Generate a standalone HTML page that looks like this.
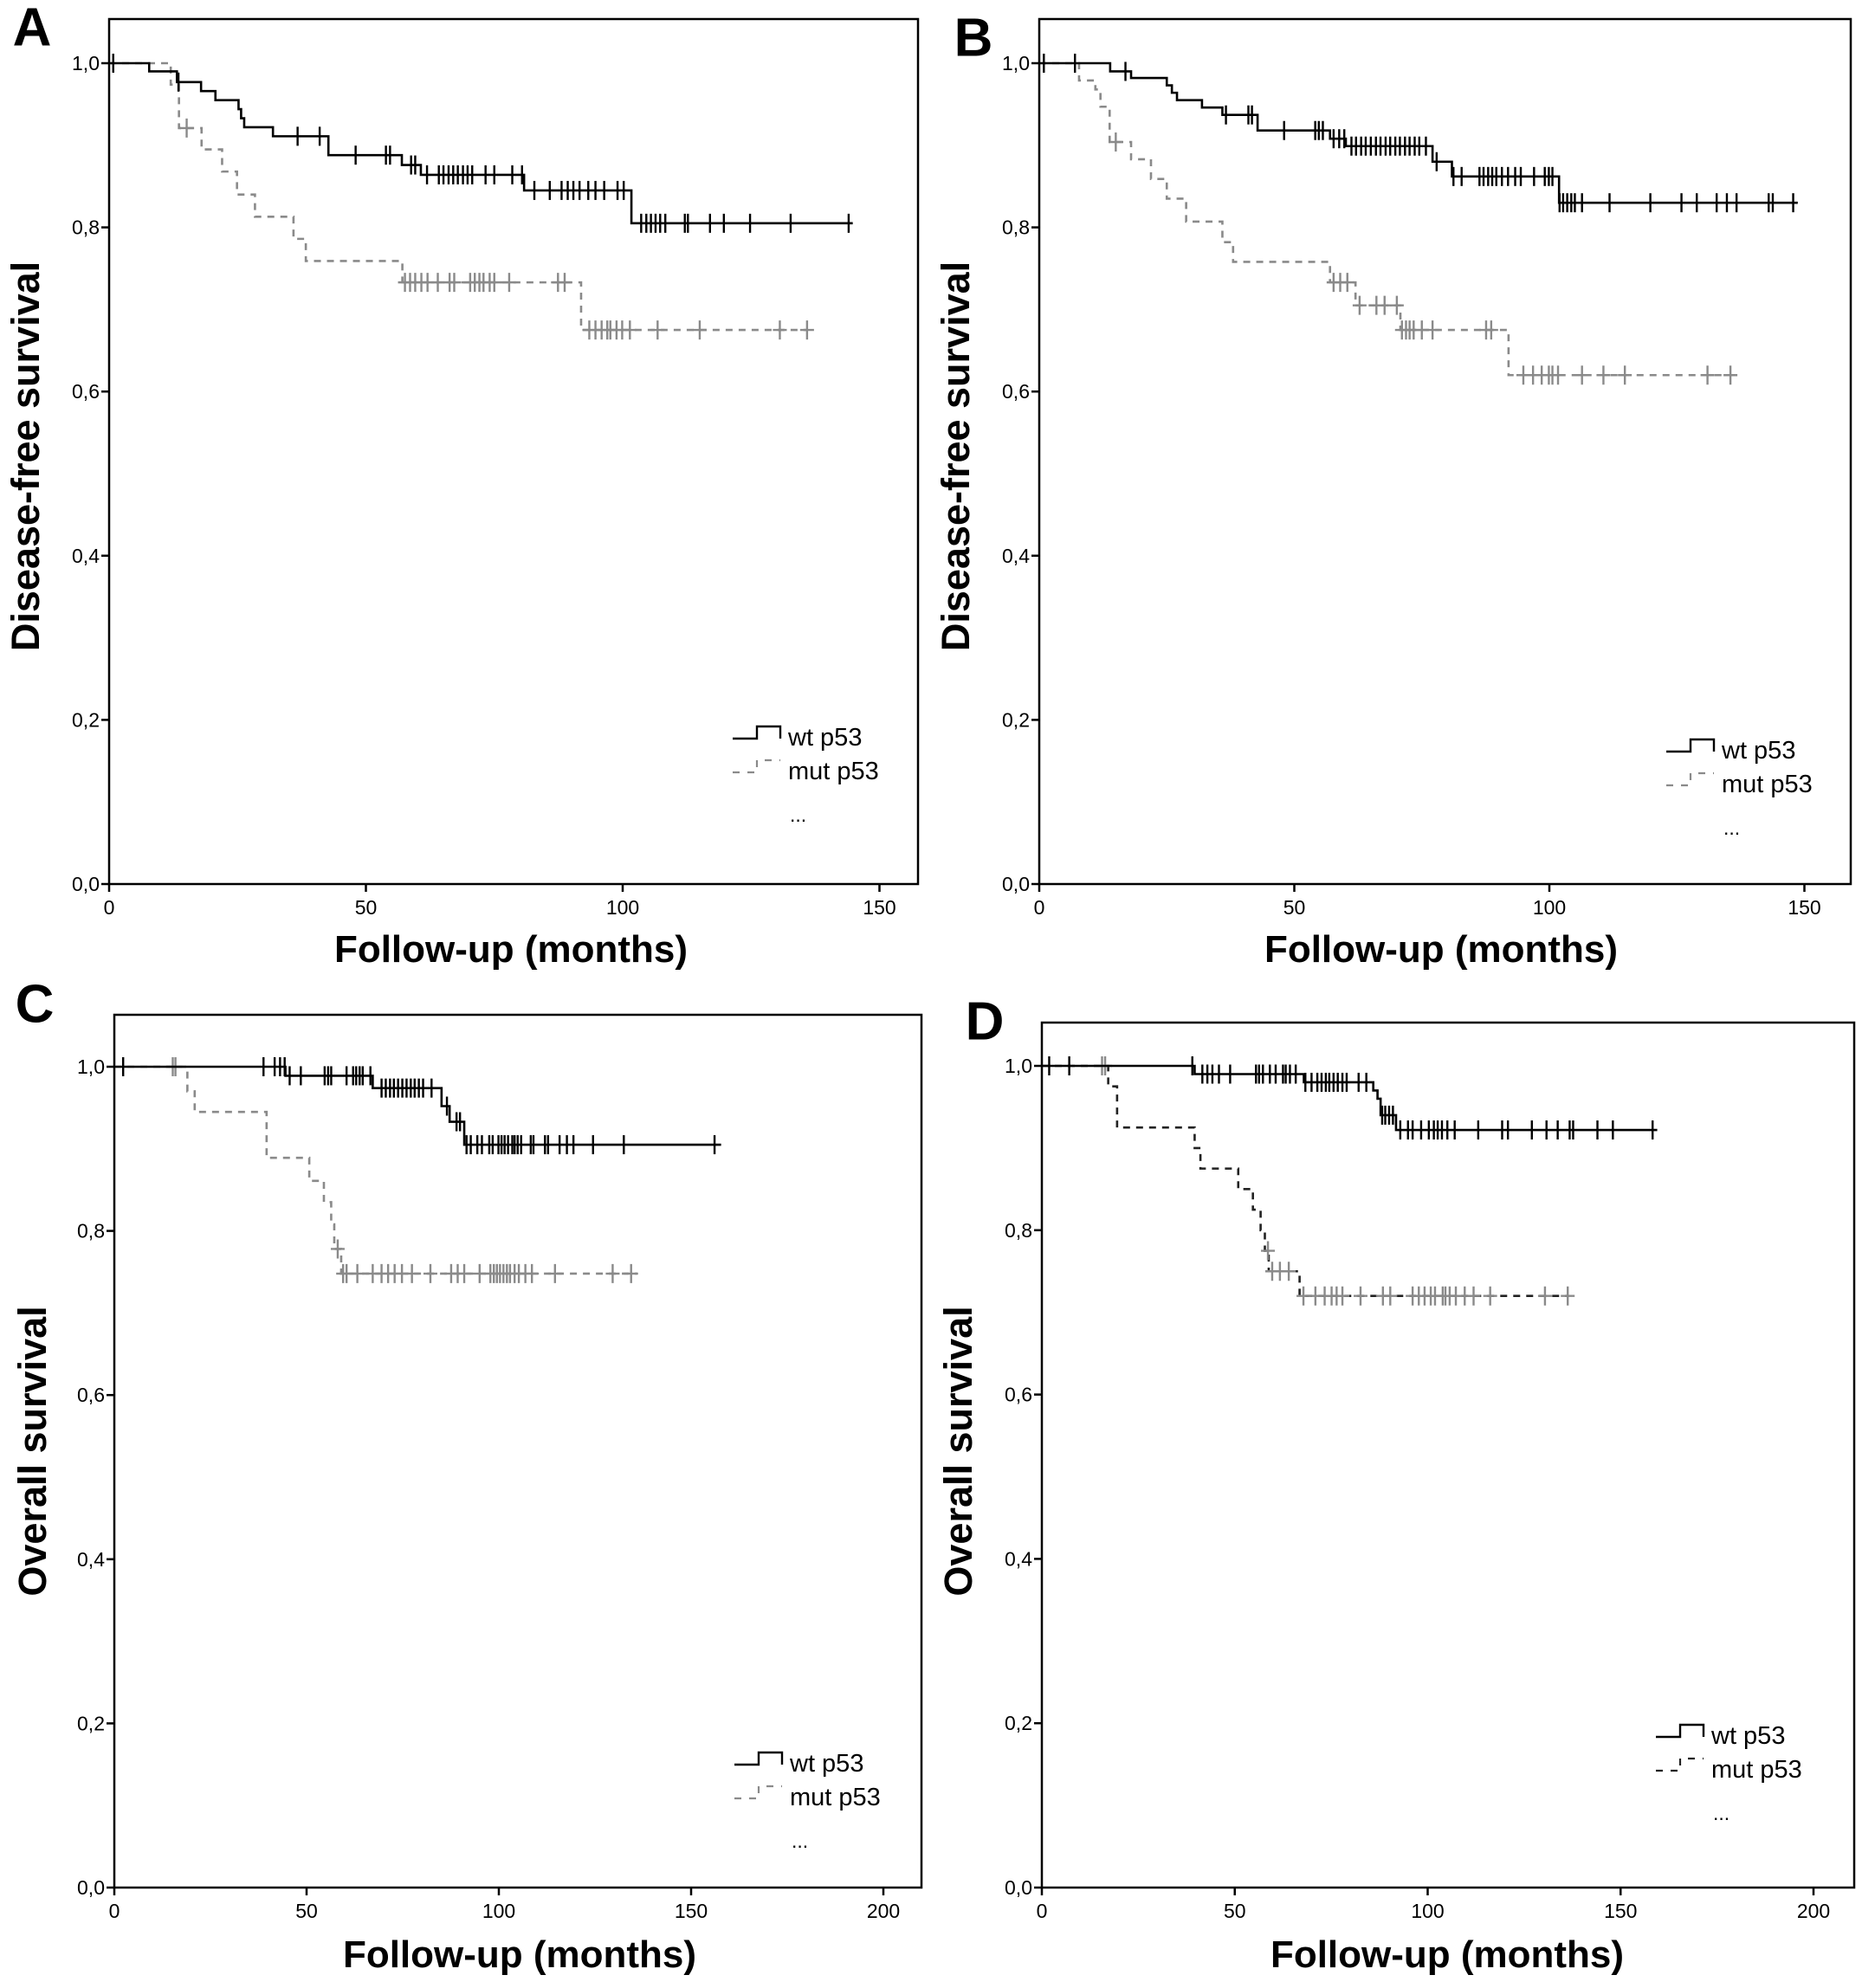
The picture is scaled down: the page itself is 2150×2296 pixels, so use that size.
<!DOCTYPE html>
<html><head><meta charset="utf-8">
<style>
html,body{margin:0;padding:0;background:#fff;}
svg{display:block;font-family:"Liberation Sans",Arial,sans-serif;}
</style></head>
<body>
<svg id="fig" width="2150" height="2296" viewBox="0 0 2150 2296" xmlns="http://www.w3.org/2000/svg"></svg>
<script>
// ---- Panel A data ----
const aWtT=[7.8,13.2,17.9,20.7,25.2,25.7,26.3,31.9,42.7,57,60.7,80.8,101.7];
const aWtS=[0.99,0.977,0.966,0.955,0.944,0.933,0.922,0.911,0.888,0.876,0.864,0.845,0.805];
const aWtEnd=144.8;
const aWtC=[0.8,13.5,36.7,41,48,53.9,54.7,58.8,59.6,61.9,64.2,65.1,66.1,67,67.9,68.9,69.8,70.7,73.3,75,78.5,80.4,82.8,85.8,88.1,89.3,90.4,91.6,93.3,94.7,96.4,99,100.2,103.6,104.6,105.5,106.4,107.3,108.3,112.1,112.7,117,119.7,124.8,132.7,144];
const aMutT=[12,13.6,18,22,24.9,28.4,35.9,38.3,57.1,91.9];
const aMutS=[0.974,0.921,0.895,0.868,0.84,0.813,0.786,0.759,0.733,0.675];
const aMutEnd=135.9;
const aMutC=[15.1,57.6,58.6,59.6,60.8,62,64,66.3,67.2,70.3,71.2,72.1,72.9,74.1,75,77.9,87.4,88.7,93.5,94.7,95.9,97,97.6,98.8,99.9,101.4,106.8,115,130.6,135.9];
// ---- Panel B data ----
const bWtT=[13.9,18,25,26,27,31.9,35.9,42.8,57,60.1,77.1,80.9,101.9];
const bWtS=[0.99,0.982,0.973,0.964,0.955,0.946,0.937,0.918,0.908,0.899,0.88,0.862,0.83];
const bWtEnd=148.7;
const bWtC=[0.9,7,16.9,36.6,41,41.7,48,54.1,54.8,55.6,57.7,58.8,59.8,61.2,62.1,63.1,64,65,66,66.9,67.9,68.8,69.8,70.7,71.7,72.6,73.6,74.5,75.8,77.9,81.2,82.8,86.3,87.1,88,88.8,89.6,90.7,91.9,93.3,94.4,97,99.1,99.9,100.6,102,102.7,103.5,104.3,105,106.4,111.8,119.8,125.9,128.9,132.8,134.8,136.7,143,143.8,147.8];
const bMutT=[7.8,11,12,13.8,18,21.9,25,28.8,35.9,38,57,62,70.8,92];
const bMutS=[0.979,0.968,0.947,0.904,0.883,0.859,0.835,0.807,0.782,0.758,0.733,0.705,0.675,0.62];
const bMutEnd=136.7;
const bMutC=[15,57.7,59,60.4,62.8,66.1,67.7,70.1,71.1,71.9,72.6,73.4,75,77.1,87.6,88.6,94.9,96.8,98.5,99.9,100.6,101.7,106.4,110.6,114.8,131,135.5];
// ---- Panel C data ----
const cWtT=[44.5,67.2,85.1,87.2,91];
const cWtS=[0.989,0.974,0.952,0.933,0.905];
const cWtEnd=157.8;
const cWtC=[2.3,38.8,41.7,43.1,44.3,45.6,48.5,54.7,55.6,56.4,60.4,62.1,62.9,63.8,64.6,66.6,69.5,70.6,71.7,72.7,73.8,74.9,76,77.1,78.1,79.2,80.3,82.5,86.5,89,89.9,91.6,92.7,94.4,95.6,97.5,98.4,99.9,100.7,101.5,102.4,103.5,104.1,104.9,105.8,108.3,109,112,112.8,115.8,117.7,119.4,124.5,132.5,156.1];
const cMutT=[19,20.9,39.6,50.7,54.5,56.4,57.2,59];
const cMutS=[0.97,0.945,0.889,0.861,0.835,0.808,0.778,0.748];
const cMutEnd=136;
const cMutC=[15.2,15.9,58.1,59.5,60.4,63.2,67.2,69.5,71.2,72.9,74.8,77.4,82.2,87.6,89.3,91,95,97.8,98.7,99.5,100.3,101.2,102.1,102.9,104.1,105.2,106.9,108.6,114.6,129.6,134.4];
// ---- Panel D data ----
const dWtT=[39.6,67.9,85.9,87,87.8,91.8];
const dWtS=[0.99,0.98,0.97,0.96,0.94,0.922];
const dWtEnd=159.5;
const dWtC=[1.9,7.1,39,41.6,42.9,44.2,45.9,48.8,55.5,56.3,57.3,59.1,60.6,62.5,63.2,64.3,65.8,68.3,69.9,71.4,72.5,73.6,74.5,75.6,76.7,77.9,79,82.1,84.1,88.2,89,90,91,92.9,94.9,96.1,98.3,100.3,101.6,102.6,103.7,105.1,107,113.1,119.3,120.8,127,130.8,133.7,136.8,137.7,144,148,158.3];
const dMutT=[17.2,19.5,39.6,41.1,50.9,54.7,56.7,57.8,58.8,66.8];
const dMutS=[0.975,0.925,0.9,0.875,0.85,0.825,0.8,0.775,0.75,0.72];
const dMutEnd=136.6;
const dMutC=[15.6,16.4,58.6,59.7,61.7,64,67.8,70.9,73.3,75.1,76.4,77.9,82.6,88.4,90.3,96.1,97.7,99.2,100.8,101.9,103.9,104.6,105.7,107.3,109.6,111.9,116.2,130.4,136.3];
// tick labels
const yTickVals=[0,0.2,0.4,0.6,0.8,1.0];
const yTickLabels=["0,0","0,2","0,4","0,6","0,8","1,0"];
const xTicksAB=[0,50,100,150];
const xTicksCD=[0,50,100,150,200];

const NS="http://www.w3.org/2000/svg";
const svg=document.getElementById('fig');
function mk(tag,attrs,parent){const e=document.createElementNS(NS,tag);for(const k in attrs)e.setAttribute(k,attrs[k]);(parent||svg).appendChild(e);return e;}
function survAt(T,S,t){let s=1;for(let i=0;i<T.length;i++){if(T[i]<=t)s=S[i];}return s;}

const panels=[
 {id:'a',letter:'A',L:126,T:22,R:1060,B:1021,y1:73,xPer:5.93,xt:xTicksAB,ytitle:'Disease-free survival',lx:37,ly:32,ytx:30,yty:527,xtx:590,xty:1111,legX:910,legY:849,
  wt:[aWtT,aWtS,aWtEnd,aWtC],mut:[aMutT,aMutS,aMutEnd,aMutC],mutLine:'#8a8a8a'},
 {id:'b',letter:'B',L:1200,T:22,R:2137,B:1021,y1:73,xPer:5.89,xt:xTicksAB,ytitle:'Disease-free survival',lx:1124,ly:44,ytx:1104,yty:527,xtx:1664,xty:1111,legX:1988,legY:864,
  wt:[bWtT,bWtS,bWtEnd,bWtC],mut:[bMutT,bMutS,bMutEnd,bMutC],mutLine:'#8a8a8a'},
 {id:'c',letter:'C',L:132,T:1172,R:1064,B:2180,y1:1232,xPer:4.44,xt:xTicksCD,ytitle:'Overall survival',lx:40,ly:1160,ytx:38,yty:1676,xtx:600,xty:2272,legX:912,legY:2034,
  wt:[cWtT,cWtS,cWtEnd,cWtC],mut:[cMutT,cMutS,cMutEnd,cMutC],mutLine:'#8a8a8a'},
 {id:'d',letter:'D',L:1203,T:1181,R:2141,B:2180,y1:1231,xPer:4.455,xt:xTicksCD,ytitle:'Overall survival',lx:1137,ly:1180,ytx:1107,yty:1676,xtx:1671,xty:2272,legX:1976,legY:2002,
  wt:[dWtT,dWtS,dWtEnd,dWtC],mut:[dMutT,dMutS,dMutEnd,dMutC],mutLine:'#222'}
];

panels.forEach(p=>{
  const g=mk('g',{});
  
  
  const X=v=>p.L+v*p.xPer;
  const Y=v=>p.B-v*(p.B-p.y1);
  const lt=mk('text',{x:p.lx,y:p.ly,'font-size':62,'font-weight':'bold','text-anchor':'middle','dominant-baseline':'central'},g);
  lt.textContent=p.letter;
  
  
  const fr=mk('rect',{x:p.L,y:p.T,width:p.R-p.L,height:p.B-p.T,fill:'none',stroke:'#000','stroke-width':2.5},g);
  
  
  yTickVals.forEach((v,i)=>{
    mk('line',{x1:p.L-9,x2:p.L,y1:Y(v),y2:Y(v),stroke:'#000','stroke-width':2.5},g);
    const t=mk('text',{x:p.L-11,y:Y(v)+8,'font-size':23,'text-anchor':'end'},g);
    t.textContent=yTickLabels[i];
    
    
  });
  p.xt.forEach(v=>{
    mk('line',{x1:X(v),x2:X(v),y1:p.B,y2:p.B+9,stroke:'#000','stroke-width':2.5},g);
    const t=mk('text',{x:X(v),y:p.B+35,'font-size':23,'text-anchor':'middle'},g);
    t.textContent=String(v);
    
    
  });
  const xt=mk('text',{x:p.xtx,y:p.xty,'font-size':44,'font-weight':'bold','text-anchor':'middle'},g);
  xt.textContent='Follow-up (months)';
  
  
  const yt=mk('text',{x:0,y:0,'font-size':45,'font-weight':'bold','text-anchor':'middle',transform:`translate(${p.ytx+15},${p.yty}) rotate(-90)`},g);
  yt.textContent=p.ytitle;
  
  

  function series(d,color,dash,censColor,isMut,name){
    const [T,S,end,C]=d;
    let path=`M${X(0)},${Y(1)}`;
    for(let i=0;i<T.length;i++){path+=` H${X(T[i])} V${Y(S[i])}`;}
    path+=` H${X(end)}`;
    const pa=mk('path',{d:path,fill:'none',stroke:color,'stroke-width':2.6,'stroke-dasharray':dash||'none'},g);
    
    
    C.forEach(t=>{
      const cx=X(t),cy=Y(survAt(T,S,t));
      const m=mk('path',{d:isMut?`M${cx-8},${cy} H${cx+8} M${cx},${cy-11} V${cy+11}`:`M${cx},${cy-11} V${cy+11}`,stroke:censColor,'stroke-width':2.4,fill:'none'},g);
      
      
    });
  }
  series(p.mut,p.mutLine,'8 7','#8a8a8a',true,'mut-p53');
  series(p.wt,'#000',null,'#000',false,'wt-p53');

  const lg=mk('g',{},g);
  
  
  const lx=p.legX, ly=p.legY;
  mk('path',{d:`M${lx-64},${ly+4} H${lx-36} V${ly-10} H${lx-9} V${ly+4}`,fill:'none',stroke:'#000','stroke-width':2.4},lg);
  const t1=mk('text',{x:lx,y:ly+12,'font-size':29},lg);
  t1.textContent='wt p53';
  
  
  mk('path',{d:`M${lx-64},${ly+43} H${lx-36} V${ly+29} H${lx-9}`,fill:'none',stroke:p.mutLine,'stroke-width':2.2,'stroke-dasharray':'8 9'},lg);
  const t2=mk('text',{x:lx,y:ly+51,'font-size':29},lg);
  t2.textContent='mut p53';
  
  
  const t3=mk('text',{x:lx+2,y:ly+100,'font-size':23},lg);
  t3.textContent='...';
  
  
});
</script>
</body></html>
